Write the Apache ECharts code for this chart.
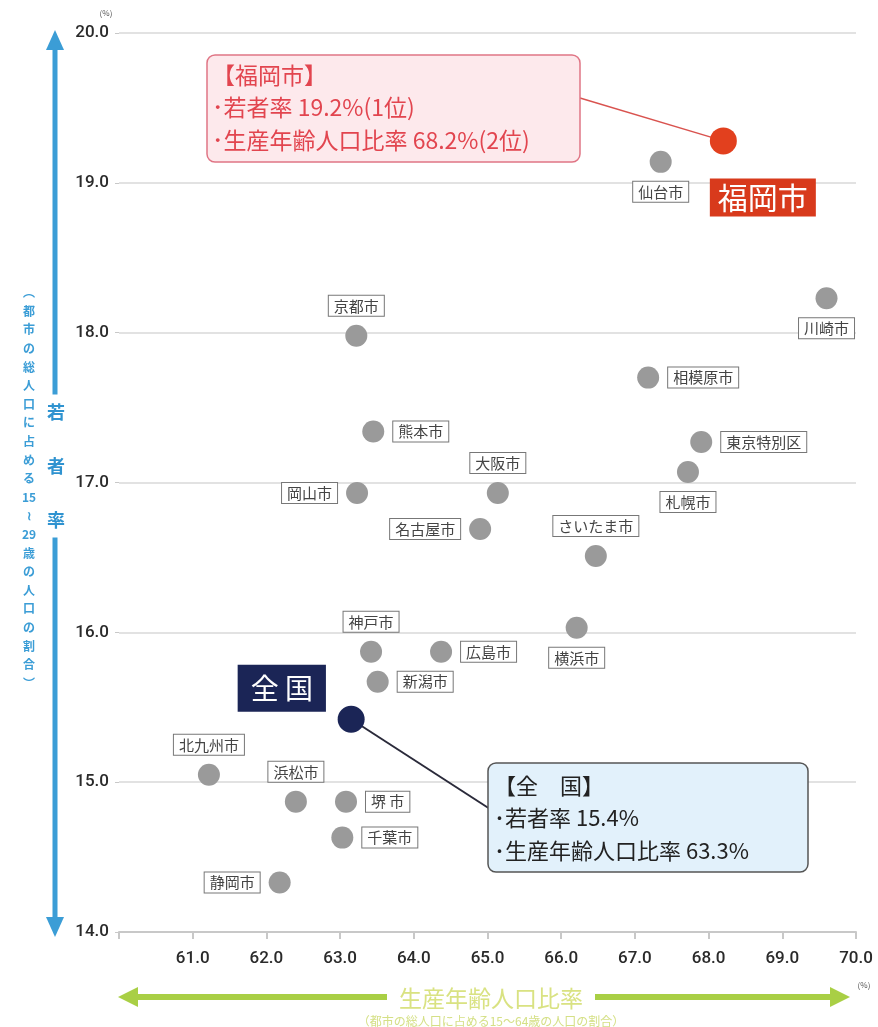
<!DOCTYPE html>
<html>
<head>
<meta charset="utf-8">
<script src="https://cdn.jsdelivr.net/npm/echarts@6/dist/echarts.min.js"></script>
<style>
html,body{margin:0;padding:0;background:#fff;}
#c{width:878px;height:1027px;}
</style>
</head>
<body>
<div id="c"></div>
<script>
// ---- data ----
const cities = ['仙台市','川崎市','京都市','相模原市','熊本市','東京特別区','札幌市','岡山市','大阪市','名古屋市','さいたま市','横浜市','神戸市','広島市','新潟市','北九州市','浜松市','堺 市','千葉市','静岡市'];
const workingAgeRate = [67.35,69.6,63.22,67.18,63.45,67.9,67.72,63.23,65.14,64.9,66.47,66.21,63.42,64.37,63.51,61.22,62.4,63.08,63.03,62.18];
const youthRate = [19.14,18.23,17.98,17.70,17.34,17.27,17.07,16.93,16.93,16.69,16.51,16.03,15.87,15.87,15.67,15.05,14.87,14.87,14.63,14.33];
const fukuoka = {name:'福岡市', x:68.2, y:19.28};
const nation = {name:'全 国', x:63.15, y:15.42};
const xTicks = [60,61,62,63,64,65,66,67,68,69,70];
const yTicks = [14,15,16,17,18,19,20];

// ---- layout / style ----
const labelSide = {'仙台市':'bottom','川崎市':'bottom','京都市':'top','相模原市':'right','熊本市':'right','東京特別区':'right','札幌市':'bottom','岡山市':'left','大阪市':'top','名古屋市':'left','さいたま市':'top','横浜市':'bottom','神戸市':'top','広島市':'right','新潟市':'right','北九州市':'top','浜松市':'top','堺 市':'right','千葉市':'right','静岡市':'left'};
const FONT = '"Noto Sans CJK JP","Noto Sans",sans-serif';

const chart = echarts.init(document.getElementById('c'));
const cityData = cities.map((n,i)=>({
  name:n, value:[workingAgeRate[i], youthRate[i]],
  label:{position:labelSide[n]}
}));

chart.setOption({
  animation:false,
  backgroundColor:'#fff',
  grid:{left:119,right:22,top:33,bottom:95,containLabel:false},
  xAxis:{
    type:'value', min:xTicks[0], max:xTicks[xTicks.length-1], interval:1,
    axisLine:{show:true,lineStyle:{color:'#c8c8c8',width:2}},
    axisTick:{show:true,length:7,lineStyle:{color:'#c8c8c8',width:2}},
    splitLine:{show:false},
    axisLabel:{margin:18,fontSize:17,fontWeight:500,color:'#2a2a2a',fontFamily:'Roboto,sans-serif',
      formatter:v=> v===xTicks[0] ? '' : v.toFixed(1)}
  },
  yAxis:{
    type:'value', min:yTicks[0], max:yTicks[yTicks.length-1], interval:1,
    axisLine:{show:false},
    axisTick:{show:true,length:4,lineStyle:{color:'#c8c8c8',width:1}},
    splitLine:{show:true,lineStyle:{color:'#e2e2e2',width:2}},
    axisLabel:{margin:10,fontSize:17,fontWeight:500,color:'#2a2a2a',fontFamily:'Roboto,sans-serif',
      formatter:v=>v.toFixed(1)}
  },
  series:[
    {
      type:'scatter', symbolSize:22, data:cityData,
      itemStyle:{color:'#9a9a9a',opacity:1},
      label:{show:true, formatter:p=>p.name, distance:9,
        fontSize:15, color:'#444', fontFamily:FONT,
        backgroundColor:'#fff', borderColor:'#777', borderWidth:1, padding:[3,5,2,5]},
      z:3
    },
    {
      type:'scatter', symbolSize:27,
      data:[{name:fukuoka.name, value:[fukuoka.x,fukuoka.y]}],
      itemStyle:{color:'#e2401e',opacity:1},
      label:{show:true, formatter:p=>p.name, position:[0,51], align:'left', verticalAlign:'top',
        fontSize:30, lineHeight:34, color:'#fff', fontFamily:FONT,
        backgroundColor:'#d83a1c', padding:[2,8]},
      z:5
    },
    {
      type:'scatter', symbolSize:27,
      data:[{name:nation.name, value:[nation.x,nation.y]}],
      itemStyle:{color:'#1b2556',opacity:1},
      label:{show:true, formatter:p=>p.name, position:[-100,-41], align:'left', verticalAlign:'top',
        fontSize:28, lineHeight:37, color:'#fff', fontFamily:FONT,
        backgroundColor:'#1b2556', padding:[5,13]},
      z:5
    }
  ]
});

const pF = chart.convertToPixel({gridIndex:0},[fukuoka.x,fukuoka.y]);
const pN = chart.convertToPixel({gridIndex:0},[nation.x,nation.y]);

const blue = '#3b9dd6';
const green = '#a9cf45';
const yLabelChars = ['︵','都','市','の','総','人','口','に','占','め','る','15','≀','29','歳','の','人','口','の','割','合','︶'];

chart.setOption({
  graphic:[
    // leader lines
    {type:'line', shape:{x1:580,y1:98,x2:pF[0],y2:pF[1]}, style:{stroke:'#d9534f',lineWidth:1.5}, z:4},
    {type:'line', shape:{x1:pN[0],y1:pN[1],x2:490,y2:809}, style:{stroke:'#2a2a3a',lineWidth:2}, z:4},
    // Fukuoka callout
    {type:'rect', shape:{x:207,y:55,width:373,height:107,r:8},
      style:{fill:'#fde9ec',stroke:'#e07585',lineWidth:1.5}, z:6},
    {type:'text', x:212, y:59, z:7,
      style:{text:'【福岡市】\n･若者率 19.2%(1位)\n･生産年齢人口比率 68.2%(2位)',
        font:'23px '+FONT, fill:'#e2454f', lineHeight:32.5}},
    // Nation callout
    {type:'rect', shape:{x:488,y:763,width:320,height:109,r:8},
      style:{fill:'#e2f1fb',stroke:'#555',lineWidth:1.5}, z:6},
    {type:'text', x:494, y:769, z:7,
      style:{text:'【全　国】\n･若者率 15.4%\n･生産年齢人口比率 63.3%',
        font:'22px '+FONT, fill:'#222', lineHeight:32.5}},
    // Y arrow
    {type:'line', shape:{x1:55,y1:44,x2:55,y2:922}, style:{stroke:blue,lineWidth:5}, z:1},
    {type:'polygon', shape:{points:[[55,30],[46,50],[64,50]]}, style:{fill:blue}, z:1},
    {type:'polygon', shape:{points:[[55,937],[46,917],[64,917]]}, style:{fill:blue}, z:1},
    {type:'text', x:56, y:466, z:2,
      style:{text:'若\n\n者\n\n率', font:'bold 18px '+FONT, fill:'#2f93d0',
        align:'center', verticalAlign:'middle', lineHeight:27, backgroundColor:'#fff', padding:[4,3]}},
    {type:'text', x:29, y:488, z:2,
      style:{text:yLabelChars.join('\n'), font:'bold 12px '+FONT, fill:blue,
        align:'center', verticalAlign:'middle', lineHeight:18.6}},
    // X arrow
    {type:'line', shape:{x1:132,y1:997,x2:836,y2:997}, style:{stroke:green,lineWidth:6}, z:1},
    {type:'polygon', shape:{points:[[118,997],[138,987],[138,1007]]}, style:{fill:green}, z:1},
    {type:'polygon', shape:{points:[[850,997],[830,987],[830,1007]]}, style:{fill:green}, z:1},
    {type:'text', x:491, y:998, z:2,
      style:{text:'生産年齢人口比率', font:'23px '+FONT, fill:'#d9e282',
        align:'center', verticalAlign:'middle', backgroundColor:'#fff', padding:[0,12]}},
    {type:'text', x:491, y:1021, z:2,
      style:{text:'（都市の総人口に占める15～64歳の人口の割合）', font:'12px '+FONT, fill:'#d5e086',
        align:'center', verticalAlign:'middle'}},
    // unit labels
    {type:'text', x:106, y:13, style:{text:'(%)', font:'8px '+FONT, fill:'#555', align:'center', verticalAlign:'middle'}},
    {type:'text', x:864, y:985, style:{text:'(%)', font:'8px '+FONT, fill:'#555', align:'center', verticalAlign:'middle'}}
  ]
});
</script>
</body>
</html>
